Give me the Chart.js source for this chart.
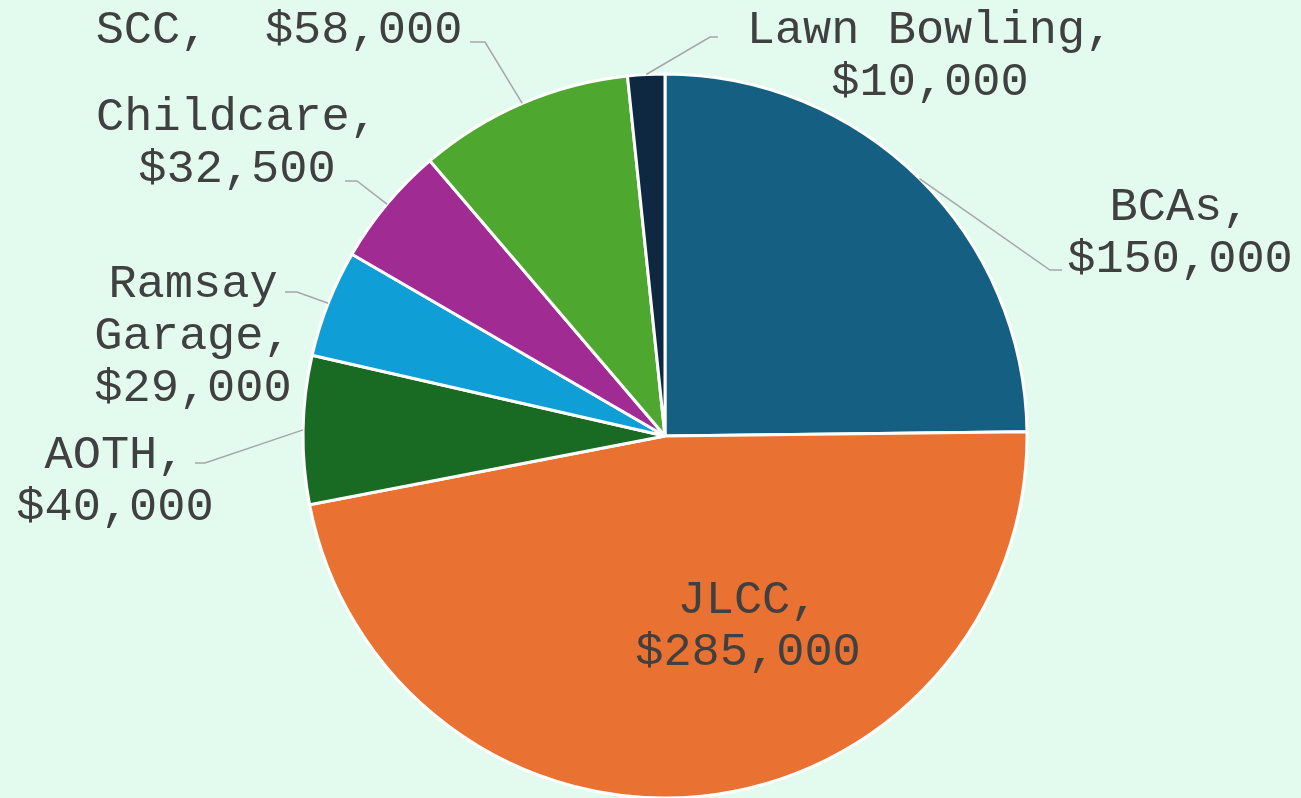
<!DOCTYPE html>
<html>
<head>
<meta charset="utf-8">
<script src="https://cdn.jsdelivr.net/npm/chart.js@4"></script>
<style>
  html, body { margin: 0; padding: 0; background: #e3fbef; }
  #wrap { width: 1301px; height: 798px; }
</style>
</head>
<body>
<div id="wrap"><canvas id="pieChart" width="1301" height="798"></canvas></div>
<script>
// Budget split, clockwise from the top
const categories = ['BCAs', 'JLCC', 'AOTH', 'Ramsay Garage', 'Childcare', 'SCC', 'Lawn Bowling'];
const amounts    = [150000, 285000, 40000, 29000, 32500, 58000, 10000];
const colours    = ['#156082', '#e97132', '#196b24', '#0f9ed5', '#a02b93', '#4ea72e', '#0e2841'];

// label placement relative to pie centre: x = text centre, y = first baseline
// wrap: 'pair' -> name / value, 'words' -> one word per line, 'line' -> single line
// elbow/end: leader line bend point and end point (null = no leader)
const labelLayout = [
  { x:  515, y: -216, wrap: 'pair',  elbow: [ 385, -166], end: [ 397, -166] },
  { x:   83, y:  177, wrap: 'pair',  elbow: null,         end: null },
  { x: -550, y:   32, wrap: 'pair',  elbow: [-460,   27], end: [-470,   27] },
  { x: -472, y: -139, wrap: 'words', elbow: [-368, -144], end: [-380, -144] },
  { x: -428, y: -306, wrap: 'pair',  elbow: [-308, -255], end: [-320, -255] },
  { x: -386, y: -393, wrap: 'line',  elbow: [-180, -394], end: [-195, -394] },
  { x:  265, y: -393, wrap: 'pair',  elbow: [  45, -399], end: [  53, -399] }
];

const fmt = v => '$' + v.toLocaleString('en-US');

function labelLines(i) {
  const name = categories[i], val = fmt(amounts[i]);
  const mode = labelLayout[i].wrap;
  if (mode === 'line')  return [name + ',  ' + val];
  if (mode === 'words') {
    const w = name.split(' ');
    w[w.length - 1] += ',';
    return w.concat([val]);
  }
  return [name + ',', val];
}

const pieLabels = {
  id: 'pieLabels',
  afterDatasetsDraw(chart) {
    const ctx  = chart.ctx;
    const meta = chart.getDatasetMeta(0);
    ctx.save();
    meta.data.forEach((arc, i) => {
      const p   = arc.getProps(['x', 'y', 'startAngle', 'endAngle', 'outerRadius'], true);
      const lay = labelLayout[i];
      const mid = (p.startAngle + p.endAngle) / 2;

      if (lay.elbow) {
        ctx.beginPath();
        ctx.strokeStyle = '#a6a6a6';
        ctx.lineWidth = 1.5;
        ctx.moveTo(p.x + Math.cos(mid) * p.outerRadius, p.y + Math.sin(mid) * p.outerRadius);
        ctx.lineTo(p.x + lay.elbow[0], p.y + lay.elbow[1]);
        ctx.lineTo(p.x + lay.end[0],   p.y + lay.end[1]);
        ctx.stroke();
      }

      ctx.fillStyle = '#404040';
      ctx.font = '47px "Liberation Mono", "Courier New", monospace';
      ctx.textAlign = 'center';
      ctx.textBaseline = 'alphabetic';
      labelLines(i).forEach((ln, k) => {
        ctx.fillText(ln, p.x + lay.x, p.y + lay.y + k * 52);
      });
    });
    ctx.restore();
  }
};

new Chart(document.getElementById('pieChart').getContext('2d'), {
  type: 'pie',
  data: {
    labels: categories,
    datasets: [{
      data: amounts,
      backgroundColor: colours,
      borderColor: '#ffffff',
      borderWidth: 3
    }]
  },
  options: {
    responsive: false,
    animation: false,
    radius: 362,
    layout: { padding: { left: 29, right: 0, top: 74, bottom: 0 } },
    plugins: {
      legend:  { display: false },
      tooltip: { enabled: false }
    }
  },
  plugins: [pieLabels]
});
</script>
</body>
</html>
